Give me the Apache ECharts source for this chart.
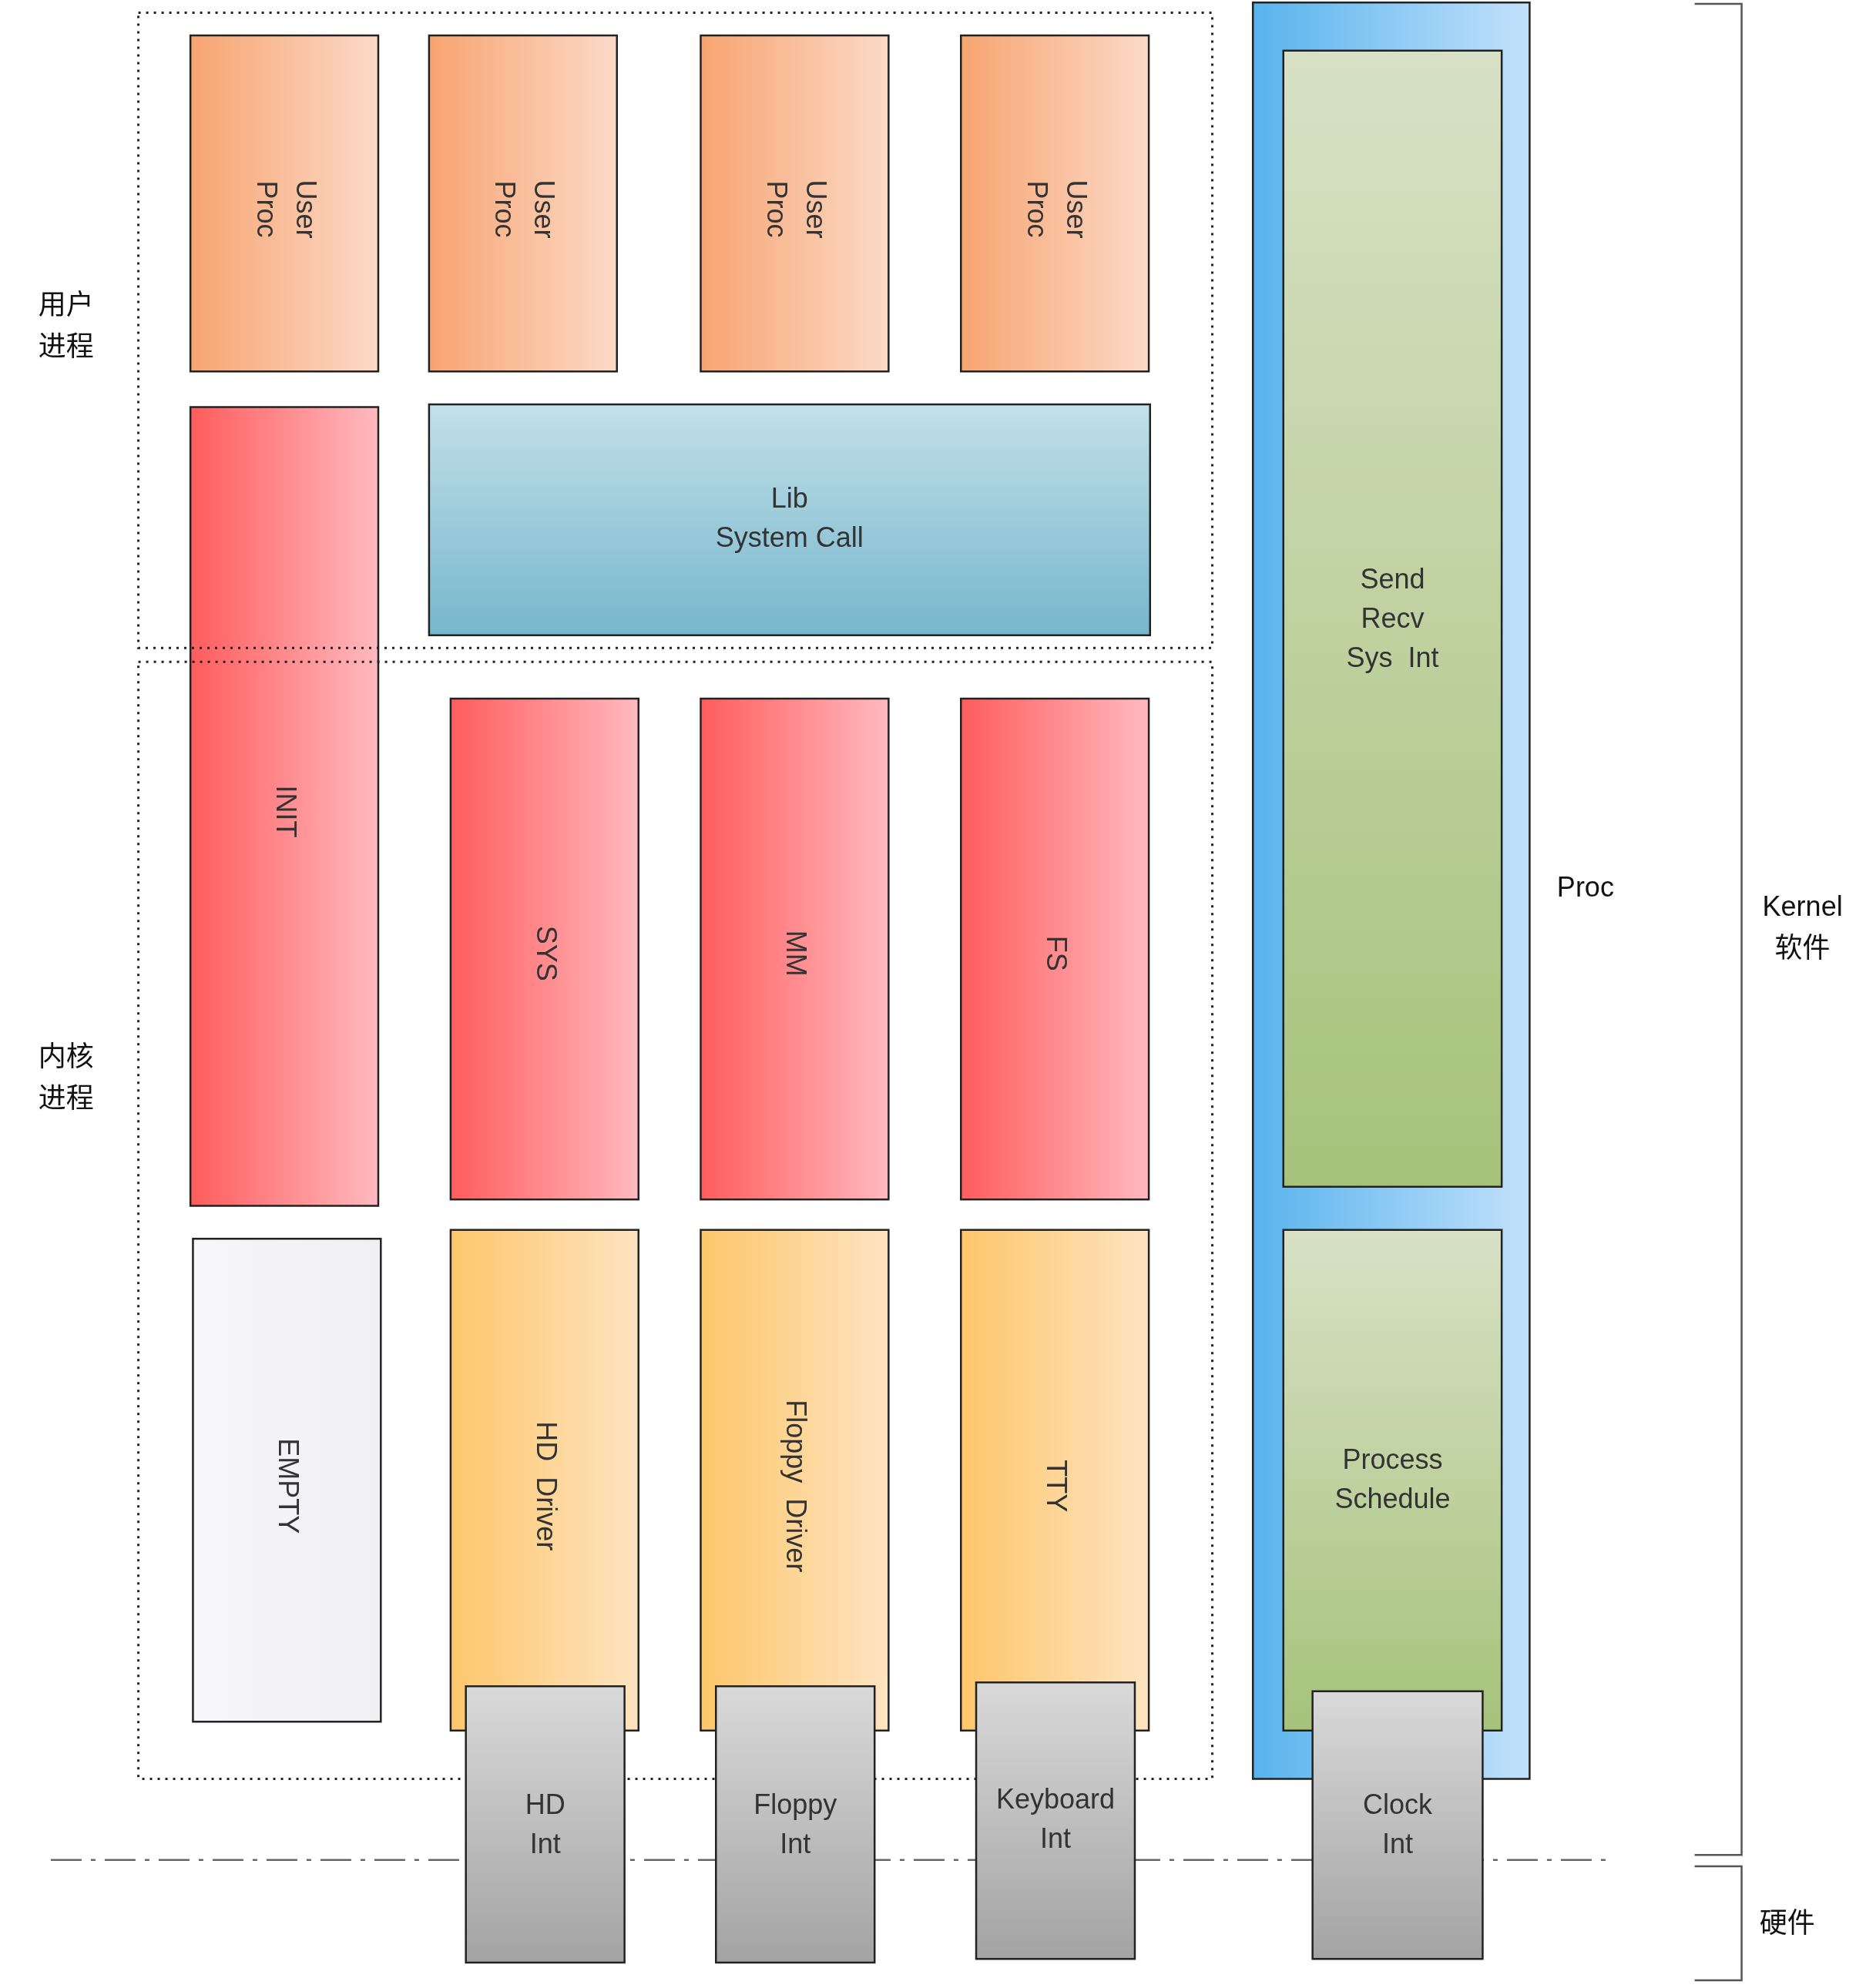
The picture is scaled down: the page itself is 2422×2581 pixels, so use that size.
<!DOCTYPE html>
<html><head><meta charset="utf-8">
<script src="https://cdn.jsdelivr.net/npm/echarts@6/dist/echarts.min.js"></script>
<style>html,body{margin:0;background:#fff}#c{width:2422px;height:2581px}</style>
</head><body><div id="c"></div>
<script>
// diagram units (reference drawn at ~1470 x 1568)
var boxNames = ['User\nProc','User\nProc','User\nProc','User\nProc','INIT','Lib\nSystem Call','SYS','MM','FS','EMPTY','HD  Driver','Floppy  Driver','TTY','Proc','Send\nRecv\nSys  Int','Process\nSchedule','HD\nInt','Floppy\nInt','Keyboard\nInt','Clock\nInt'];
var boxRects = [[150,28,298,293],[338,28,486,293],[552,28,700,293],[757,28,905,293],[150,321,298,951],[338,319,906,501],[355,551,503,946],[552,551,700,946],[757,551,905,946],[152,977,300,1358],[355,970,503,1365],[552,970,700,1365],[757,970,905,1365],[987,2,1205,1403],[1011,40,1183,936],[1011,970,1183,1365],[367,1330,492,1548],[564,1330,689,1548],[769,1327,894,1545],[1034,1334,1168,1545]];
var boxKind = ['user','user','user','user','kern','lib','kern','kern','kern','empty','drv','drv','drv','proc','green','green','int','int','int','int'];
var boxTextY = [165,165,165,165,640,410,752,752,752,1172,1172,1172,1172,null,489,1168,1440,1440,1436,1440];
var frameRects = [[109,10,955,511],[109,522,955,1403]];
var sideLabels = ['用户\n进程','内核\n进程','Proc','Kernel\n软件','硬件'];
var sideLabelPos = [[52,258],[52,851],[1249,701],[1420,733],[1408,1518]];
var bracketSpans = [[3,1463],[1472,1562]];

var S = 2422 / 1470;
function grad(c1, c2, vertical) {
  return {type:'linear', x:0, y:0, x2:vertical?0:1, y2:vertical?1:0, colorStops:[{offset:0,color:c1},{offset:1,color:c2}]};
}
var kindStyle = {
  user:{fill:grad('#f7a470','#fcdac8'), rot:true},
  kern:{fill:grad('#ff5c5c','#ffbac0'), rot:true},
  lib:{fill:grad('#c3e0e8','#76b6cd',true), rot:false},
  empty:{fill:grad('#f7f7f9','#f0f0f3'), rot:true},
  drv:{fill:grad('#fdc66a','#fee4c2'), rot:true},
  proc:{fill:grad('#58b3ed','#c2e1fb'), rot:false},
  green:{fill:grad('#d8e1c6','#a6c27a',true), rot:false},
  int:{fill:grad('#d9d9d9','#a3a3a3',true), rot:false}
};
var font = 'Arial, "Liberation Sans", sans-serif';
var fs = Math.round(22 * S);
var order = [13,14,15,0,1,2,3,4,5,6,7,8,9,10,11,12];
var intIdx = [16,17,18,19];

function boxEl(i, api) {
  var r = boxRects[i];
  var p0 = api.coord([r[0], r[1]]), p1 = api.coord([r[2], r[3]]);
  var st = kindStyle[boxKind[i]];
  var els = [{type:'rect', shape:{x:p0[0],y:p0[1],width:p1[0]-p0[0],height:p1[1]-p0[1]},
    style:{fill:st.fill, stroke:'#222', lineWidth:2.5}}];
  if (boxTextY[i] !== null) {
    var c = api.coord([(r[0]+r[2])/2, boxTextY[i]]);
    els.push({type:'text', x:c[0], y:c[1], rotation: st.rot ? -Math.PI/2 : 0,
      style:{text:boxNames[i], fill:'#333', font: fs+'px '+font, align:'center', verticalAlign:'middle', lineHeight:Math.round(31*S)}});
  }
  return {type:'group', children:els};
}

var chart = echarts.init(document.getElementById('c'));
chart.setOption({
  animation:false,
  grid:{left:0,right:0,top:0,bottom:0},
  xAxis:{type:'value',min:0,max:1470,show:false},
  yAxis:{type:'value',min:0,max:1568,inverse:true,show:false},
  series:[
    {type:'custom', data:order, renderItem:function(p, api){ return boxEl(order[p.dataIndex], api); }},
    {type:'custom', data:frameRects, renderItem:function(p, api){
      var r = frameRects[p.dataIndex];
      var p0 = api.coord([r[0],r[1]]), p1 = api.coord([r[2],r[3]]);
      return {type:'rect', shape:{x:p0[0],y:p0[1],width:p1[0]-p0[0],height:p1[1]-p0[1]},
        style:{fill:null, stroke:'#222', lineWidth:3, lineDash:[3,7]}};
    }},
    {type:'custom', data:[0], renderItem:function(p, api){
      var a = api.coord([40,1467]), b = api.coord([1265,1467]);
      return {type:'line', shape:{x1:a[0],y1:a[1],x2:b[0],y2:b[1]},
        style:{stroke:'#666', lineWidth:2.5, lineDash:[40,12,6,12]}};
    }},
    {type:'custom', data:intIdx, renderItem:function(p, api){ return boxEl(intIdx[p.dataIndex], api); }},
    {type:'custom', data:bracketSpans, renderItem:function(p, api){
      var s = bracketSpans[p.dataIndex];
      var pts = [api.coord([1335,s[0]]), api.coord([1372,s[0]]), api.coord([1372,s[1]]), api.coord([1335,s[1]])];
      return {type:'polyline', shape:{points:pts}, style:{fill:null, stroke:'#555', lineWidth:2.5}};
    }},
    {type:'custom', data:sideLabels, renderItem:function(p, api){
      var c = api.coord(sideLabelPos[p.dataIndex]);
      return {type:'text', x:c[0], y:c[1],
        style:{text:sideLabels[p.dataIndex], fill:'#111', font: fs+'px '+font+', "Noto Sans CJK SC"', align:'center', verticalAlign:'middle', lineHeight:Math.round(33*S)}};
    }}
  ]
});
</script>
</body></html>
